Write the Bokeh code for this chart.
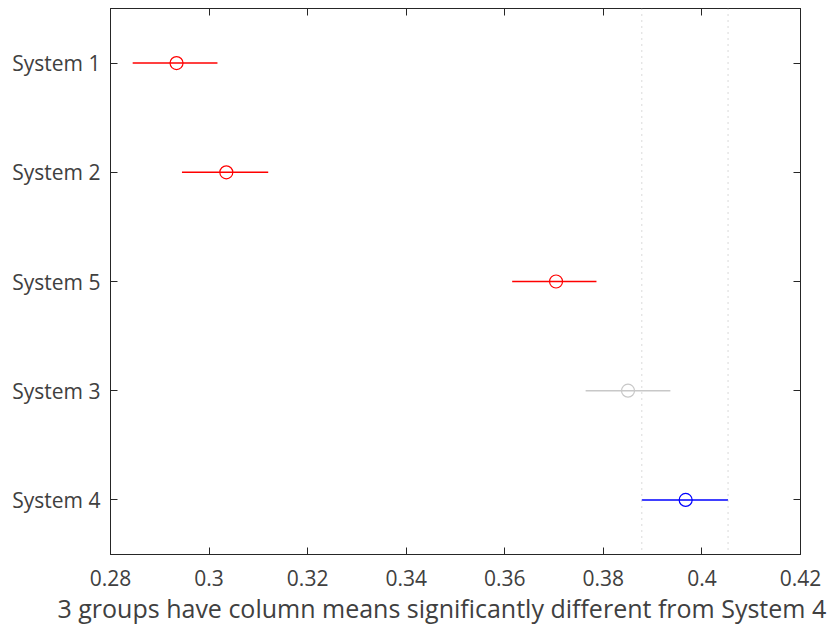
from bokeh.plotting import figure
from bokeh.models import LinearAxis, FixedTicker, Span, ColumnDataSource, Range1d, Title
from bokeh.embed import file_html
from bokeh.resources import INLINE

# ---- data ----
groups = ["System 1", "System 2", "System 5", "System 3", "System 4"]
means = [0.2934, 0.3035, 0.3704, 0.3850, 0.3967]
lower = [0.2845, 0.2945, 0.3615, 0.3764, 0.3878]
upper = [0.3017, 0.3120, 0.3786, 0.3936, 0.4053]
colors = ["#ff0000", "#ff0000", "#ff0000", "#c8c8c8", "#0000ff"]
x_ticks = [0.28, 0.30, 0.32, 0.34, 0.36, 0.38, 0.40, 0.42]
x_tick_labels = ["0.28", "0.3", "0.32", "0.34", "0.36", "0.38", "0.4", "0.42"]
ref_group = "System 4"
xlabel = "3 groups have column means significantly different from System 4"

ypos = list(range(1, len(groups) + 1))
src = ColumnDataSource(dict(y=ypos, m=means, lo=lower, hi=upper, c=colors))

FONT = "Open Sans"
TXT = "#404040"
AX = "#262626"

p = figure(frame_width=690, frame_height=546, output_backend="svg", toolbar_location=None,
           x_range=Range1d(0.28, 0.42), y_range=Range1d(len(groups) + 0.5, 0.5),
           min_border_left=110, min_border_right=27, min_border_top=8,
           min_border_bottom=0, x_axis_location="below")
p.grid.visible = False
p.outline_line_color = AX
p.outline_line_width = 1
p.background_fill_color = "white"
p.border_fill_color = "white"

# reference interval lines
ri = groups.index(ref_group)
for v in (lower[ri], upper[ri]):
    p.add_layout(Span(location=v, dimension="height", line_color="#b4b4b4",
                      line_width=1, line_dash="1 5"))

p.segment(x0="lo", x1="hi", y0="y", y1="y", line_color="c", line_width=1.5, source=src)
p.scatter(x="m", y="y", marker="circle", size=13, fill_color=None,
          line_color="c", line_width=1.2, source=src)

def style(ax):
    ax.axis_line_color = AX
    ax.major_tick_line_color = AX
    ax.major_tick_in = 7
    ax.major_tick_out = 0
    ax.minor_tick_line_color = None
    ax.major_label_text_font = FONT
    ax.major_label_text_color = TXT
    ax.major_label_text_font_size = "21px"

xa = p.xaxis[0]
xa.ticker = FixedTicker(ticks=x_ticks)
xa.major_label_overrides = {t: l for t, l in zip(x_ticks, x_tick_labels)}
xa.major_label_standoff = 15
style(xa)

ya = p.yaxis[0]
ya.ticker = FixedTicker(ticks=ypos)
ya.major_label_overrides = {y: g for y, g in zip(ypos, groups)}
ya.major_label_standoff = 10
style(ya)

top = LinearAxis(ticker=FixedTicker(ticks=x_ticks))
style(top)
top.major_label_overrides = {t: "" for t in x_ticks}
top.major_label_standoff = 0
p.add_layout(top, "above")

right = LinearAxis(ticker=FixedTicker(ticks=ypos))
style(right)
right.major_label_overrides = {y: "" for y in ypos}
right.major_label_standoff = 0
p.add_layout(right, "right")

xt = Title(text=xlabel, align="left", offset=-53, text_font=FONT,
           text_font_style="normal", text_color=TXT, text_font_size="25px",
           standoff=0)
p.add_layout(xt, "below")

open("out.html", "w").write(file_html(p, INLINE))
